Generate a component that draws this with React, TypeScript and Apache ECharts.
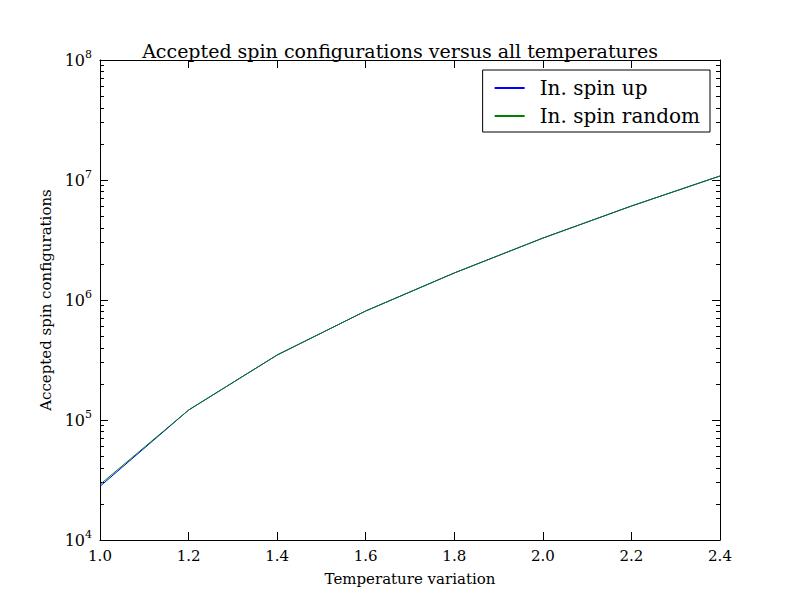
import { useEffect, useRef } from 'react';
import * as echarts from 'echarts';

const temperatures = [1.0, 1.2, 1.4, 1.6, 1.8, 2.0, 2.2, 2.4];
const spinUp = [2.8e4, 1.21e5, 3.48e5, 8.1e5, 1.68e6, 3.28e6, 6.07e6, 1.08e7];
const spinRandom = [2.9e4, 1.21e5, 3.48e5, 8.1e5, 1.68e6, 3.28e6, 6.07e6, 1.08e7];

const font = 'DejaVu Serif';

export default function App() {
  const ref = useRef<HTMLDivElement>(null);

  useEffect(() => {
    document.body.style.margin = '0';
    if (!ref.current) return;
    const chart = echarts.init(ref.current, null, { renderer: 'svg' });
    const tickStyle = { inside: true, length: 8, lineStyle: { color: '#000' } };
    const minor = { show: true, splitNumber: 9, length: 4, lineStyle: { color: '#000' } };
    chart.setOption({
      animation: false,
      backgroundColor: '#fff',
      textStyle: { fontFamily: font },
      title: {
        text: 'Accepted spin configurations versus all temperatures',
        left: 'center',
        top: 36,
        textStyle: { fontFamily: font, fontSize: 19, fontWeight: 'normal', color: '#000' }
      },
      legend: {
        orient: 'vertical',
        right: 90,
        top: 70,
        padding: [8, 10, 6, 12],
        itemGap: 8,
        itemWidth: 30,
        itemHeight: 2,
        icon: 'rect',
        borderColor: '#000',
        borderWidth: 1,
        borderRadius: 0,
        textStyle: { fontFamily: font, fontSize: 20, color: '#000', padding: [0, 0, 0, 10] },
        data: ['In. spin up', 'In. spin random']
      },
      grid: { left: 100, right: 80, top: 60, bottom: 60 },
      xAxis: [
        {
          type: 'value', min: 1.0, max: 2.4, interval: 0.2,
          name: 'Temperature variation', nameLocation: 'middle', nameGap: 31,
          nameTextStyle: { fontFamily: font, fontSize: 15, color: '#000' },
          axisLine: { lineStyle: { color: '#000' } },
          axisTick: tickStyle,
          axisLabel: { color: '#000', fontSize: 15, fontFamily: font, margin: 8, formatter: (v: number) => v.toFixed(1) },
          splitLine: { show: false }
        },
        {
          type: 'value', min: 1.0, max: 2.4, interval: 0.2, position: 'top',
          axisLine: { lineStyle: { color: '#000' } },
          axisTick: tickStyle, axisLabel: { show: false }, splitLine: { show: false }
        }
      ],
      yAxis: [
        {
          type: 'log', min: 1e4, max: 1e8, logBase: 10,
          name: 'Accepted spin configurations', nameLocation: 'middle', nameGap: 47,
          nameTextStyle: { fontFamily: font, fontSize: 15, color: '#000' },
          axisLine: { lineStyle: { color: '#000' } },
          axisTick: tickStyle,
          minorTick: minor,
          axisLabel: {
            color: '#000', fontFamily: font, fontSize: 16, margin: 8,
            formatter: (v: number) => '10{sup|' + Math.round(Math.log10(v)) + '}',
            rich: { sup: { fontSize: 11, fontFamily: font, color: '#000', padding: [0, 0, 12, 0] } }
          },
          splitLine: { show: false }
        },
        {
          type: 'log', min: 1e4, max: 1e8, logBase: 10, position: 'right',
          axisLine: { lineStyle: { color: '#000' } },
          axisTick: tickStyle, minorTick: minor,
          axisLabel: { show: false }, splitLine: { show: false }
        }
      ],
      series: [
        {
          name: 'In. spin up', type: 'line', color: '#0000ff', showSymbol: false,
          lineStyle: { width: 1 },
          data: temperatures.map((t, i) => [t, spinUp[i]])
        },
        {
          name: 'In. spin random', type: 'line', color: '#007f00', showSymbol: false,
          lineStyle: { width: 1 },
          data: temperatures.map((t, i) => [t, spinRandom[i]])
        }
      ]
    });
    return () => chart.dispose();
  }, []);

  return <div ref={ref} style={{ width: 800, height: 600 }} />;
}
